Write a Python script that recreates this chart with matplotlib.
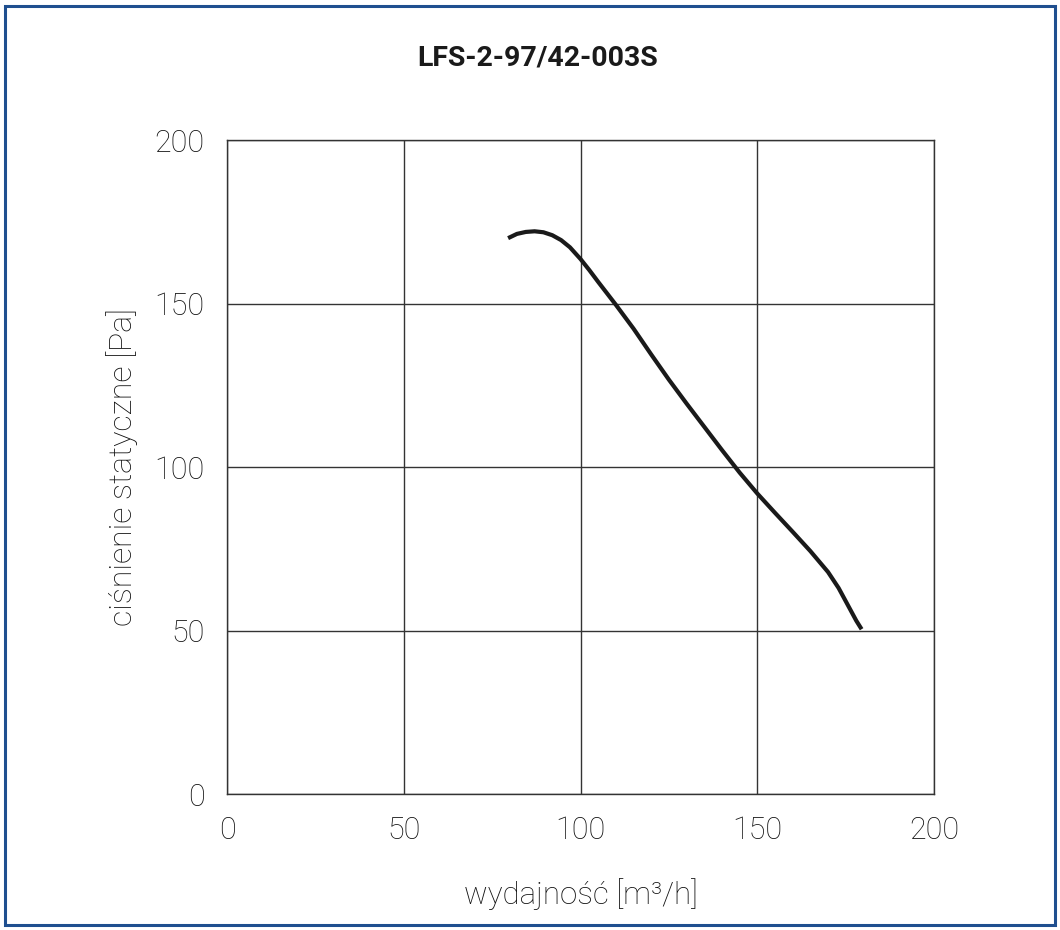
import matplotlib
matplotlib.use("Agg")
import matplotlib.pyplot as plt
from matplotlib.patches import Rectangle

title = "LFS-2-97/42-003S"
xlabel = "wydajność [m³/h]"
ylabel = "ciśnienie statyczne [Pa]"
x_ticks = [0, 50, 100, 150, 200]
y_ticks = [0, 50, 100, 150, 200]

flow = [79.5, 82.0, 84.5, 87.0, 89.5, 92.0, 94.5, 97.0, 100.0, 102.5, 105.0,
        110.0, 115.0, 120.0, 125.0, 130.0, 135.0, 140.0, 145.0, 150.0, 155.0,
        160.0, 165.0, 170.0, 173.0, 176.0, 178.0, 179.5]
pressure = [170.0, 171.3, 171.9, 172.1, 171.8, 170.9, 169.4, 167.2, 163.6, 160.2, 156.6,
            149.6, 142.3, 134.4, 126.7, 119.4, 112.3, 105.2, 98.3, 91.9, 86.0,
            80.2, 74.3, 67.9, 63.0, 57.0, 53.0, 50.4]

plt.rcParams['font.family'] = ['Roboto', 'DejaVu Sans']

fig = plt.figure(figsize=(10.6, 9.3), dpi=100)
ax = fig.add_axes([0.2142, 0.1462, 0.6670, 0.7032])

ax.plot(flow, pressure, color='#1a1a1a', lw=3.0, solid_capstyle='butt',
        solid_joinstyle='round', zorder=3)

ax.set_xlim(0, 200)
ax.set_ylim(0, 200)
ax.set_xticks(x_ticks)
ax.set_yticks(y_ticks)
ax.grid(True, color='#333333', lw=1.0)
for s in ax.spines.values():
    s.set_color('#333333')
    s.set_linewidth(1.0)
ax.tick_params(length=0, labelsize=22, colors='#111111', pad=16)
for lab in ax.get_xticklabels() + ax.get_yticklabels():
    lab.set_fontweight('light')

ax.set_xlabel(xlabel, fontsize=22.5, fontweight='light', color='#111111', labelpad=24)
ax.set_ylabel(ylabel, fontsize=23, fontweight='light', color='#111111', labelpad=12)

fig.text(538/1060, 1 - 58/930, title, ha='center', va='center', fontsize=20.5,
         fontweight='bold', color='#1a1a1a')

fig.patches.append(Rectangle((5/1060, 5/930), 1050/1060, 919/930, transform=fig.transFigure,
                             fill=False, edgecolor='#1f4f8f', lw=2.2))

fig.savefig('out.png', dpi=100)
